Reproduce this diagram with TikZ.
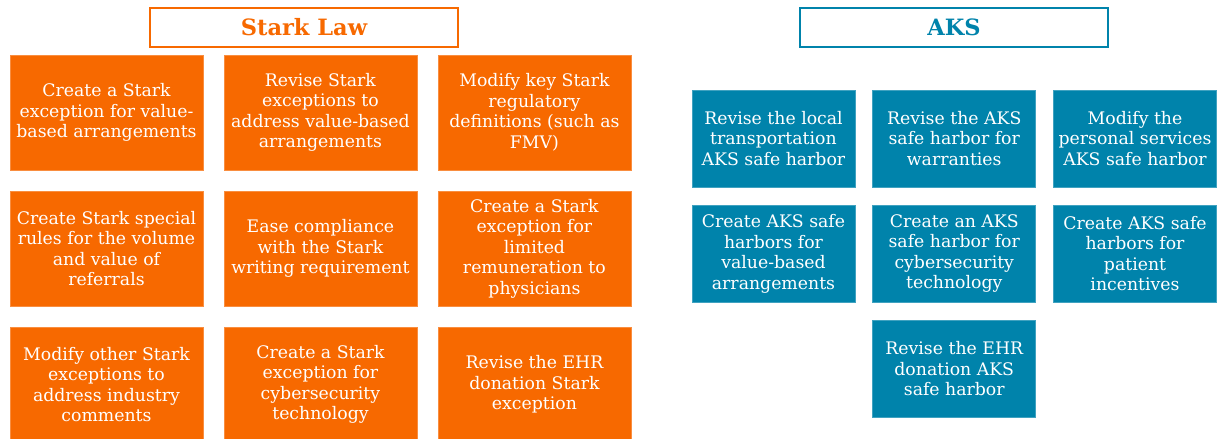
\documentclass[tikz,border=0pt]{standalone}
\usepackage{fontspec}
\setmainfont{DejaVu Serif}
\usepackage{tikz}
\usetikzlibrary{positioning}
\usepackage{xcolor}
\definecolor{starkorange}{RGB}{247,105,0}
\definecolor{aksteal}{RGB}{0,131,171}

\begin{document}
\begin{tikzpicture}[node distance=0.51cm, every node/.style={font=\fontsize{12.3}{14.6}\selectfont}]
\tikzstyle{head}=[draw, line width=0.8pt, fill=white, minimum width=7.7cm, minimum height=0.975cm, font=\fontsize{16}{18}\selectfont\bfseries]
\tikzstyle{sbox}=[draw=starkorange!75!white, line width=0.4pt, fill=starkorange, text=white, minimum width=4.825cm, minimum height=2.875cm, align=center, inner sep=1pt]
\tikzstyle{abox}=[draw=aksteal!75!white, line width=0.4pt, fill=aksteal, text=white, minimum width=4.075cm, minimum height=2.425cm, align=center, inner sep=1pt]
\useasboundingbox (0,0) rectangle (30.525,-10.975);
% Stark side
\node[head, draw=starkorange, text=starkorange] (stark) at (7.6,-0.6875) {Stark Law};
\node[sbox] (sexc) at (2.6625,-2.8125) {Create a Stark\\exception for value-\\based arrangements};
\node[sbox,right=of sexc] (srev) {Revise Stark\\exceptions to\\address value-based\\arrangements};
\node[sbox,right=of srev] (sdef) {Modify key Stark\\regulatory\\definitions (such as\\FMV)};
\node[sbox,below=of sexc] (svol) {Create Stark special\\rules for the volume\\and value of\\referrals};
\node[sbox,right=of svol] (swrite) {Ease compliance\\with the Stark\\writing requirement};
\node[sbox,right=of swrite] (slim) {Create a Stark\\exception for\\limited\\remuneration to\\physicians};
\node[sbox,below=of svol] (sother) {Modify other Stark\\exceptions to\\address industry\\comments};
\node[sbox,right=of sother] (scyber) {Create a Stark\\exception for\\cybersecurity\\technology};
\node[sbox,right=of scyber] (sehr) {Revise the EHR\\donation Stark\\exception};
% AKS side
\node[head, draw=aksteal, text=aksteal] (aks) at (23.85,-0.6875) {AKS};
\node[abox] (aloc) at (19.3375,-3.4625) {Revise the local\\transportation\\AKS safe harbor};
\node[abox,right=0.43cm of aloc] (awarr) {Revise the AKS\\safe harbor for\\warranties};
\node[abox,right=0.43cm of awarr] (apers) {Modify the\\personal services\\AKS safe harbor};
\node[abox,below=0.44cm of aloc] (avbx) {Create AKS safe\\harbors for\\value-based\\arrangements};
\node[abox,right=0.43cm of avbx] (acyber) {Create an AKS\\safe harbor for\\cybersecurity\\technology};
\node[abox,right=0.43cm of acyber] (apat) {Create AKS safe\\harbors for\\patient\\incentives};
\node[abox,below=0.44cm of acyber] (aehr) {Revise the EHR\\donation AKS\\safe harbor};
\end{tikzpicture}
\end{document}
